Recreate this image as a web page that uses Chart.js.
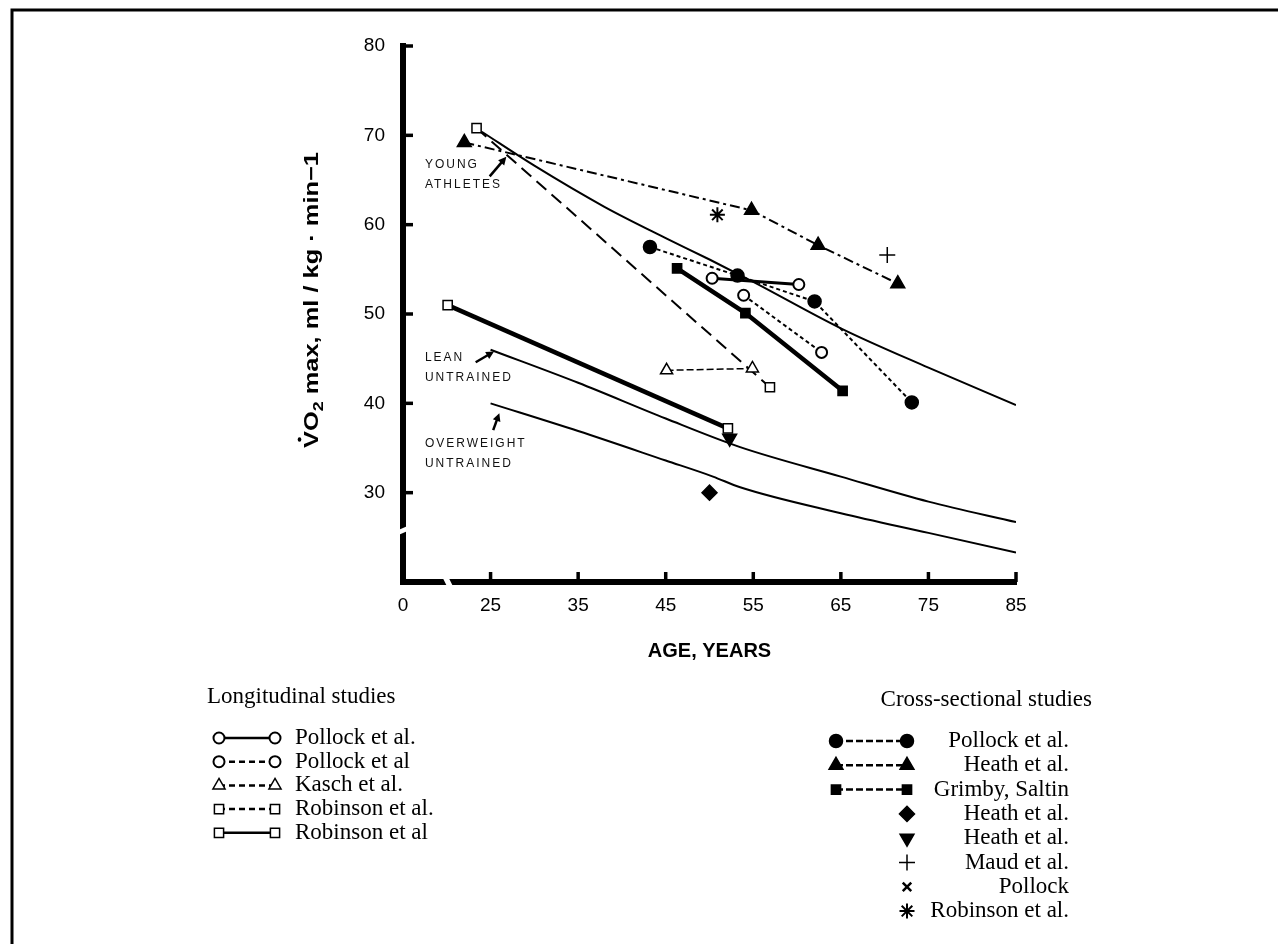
<!DOCTYPE html>
<html>
<head>
<meta charset="utf-8">
<script src="https://cdn.jsdelivr.net/npm/chart.js@4.4.1/dist/chart.umd.min.js"></script>
<style>
    html, body { margin: 0; padding: 0; background: #fff; }
    #wrap { width: 1278px; height: 944px; }
</style>
</head>
<body>
<div id="wrap"><canvas id="vo2Chart" width="1278" height="944"></canvas></div>
<script>
// Reference curves (age, VO2 max)
const youngAge = [24, 30, 38, 45, 50, 55, 65, 75, 85];
const youngVO2 = [70.4, 66.6, 62.0, 58.5, 56.1, 53.6, 48.4, 44.0, 39.8];
const leanAge = [25, 35, 45, 53.5, 65, 75, 85];
const leanVO2 = [46.0, 42.3, 38.3, 35.1, 31.8, 29.0, 26.7];
const overAge = [25, 35, 45, 50.4, 53.5, 65, 75, 85];
const overVO2 = [40.0, 36.9, 33.6, 31.8, 30.6, 27.7, 25.5, 23.3];

// Longitudinal studies
const pollockSolidAge = [50.3, 60.2];
const pollockSolidVO2 = [54.0, 53.3];
const pollockDashAge = [53.9, 62.8];
const pollockDashVO2 = [52.1, 45.7];
const kaschAge = [45.1, 54.9];
const kaschVO2 = [43.7, 43.9];
const robinsonDashAge = [23.4, 56.9];
const robinsonDashVO2 = [70.8, 41.8];
const robinsonSolidAge = [20.1, 52.1];
const robinsonSolidVO2 = [51.0, 37.2];

// Cross-sectional studies
const pollockCrossAge = [43.2, 53.2, 62.0, 73.1];
const pollockCrossVO2 = [57.5, 54.3, 51.4, 40.1];
const heathTriAge = [22.0, 54.8, 62.4, 71.5];
const heathTriVO2 = [69.2, 61.6, 57.7, 53.4];
const grimbyAge = [46.3, 54.1, 65.2];
const grimbyVO2 = [55.1, 50.1, 41.4];
const heathDiamondAge = [50.0];
const heathDiamondVO2 = [30.0];
const heathDownAge = [52.3];
const heathDownVO2 = [36.1];
const maudAge = [70.3];
const maudVO2 = [56.6];
const pollockXAge = [];
const pollockXVO2 = [];
const robinsonStarAge = [50.9];
const robinsonStarVO2 = [61.1];

// Axes
const ageTicks = [15, 25, 35, 45, 55, 65, 75, 85];
const ageTickLabels = ['0', '25', '35', '45', '55', '65', '75', '85'];
const vo2Ticks = [30, 40, 50, 60, 70, 80];

const longLegendLabels = ['Pollock et al.', 'Pollock et al', 'Kasch et al.', 'Robinson et al.', 'Robinson et al'];
const crossLegendLabels = ['Pollock et al.', 'Heath et al.', 'Grimby, Saltin', 'Heath et al.', 'Heath et al.', 'Maud et al.', 'Pollock', 'Robinson et al.'];

const notes = [
    { lines: ['YOUNG', 'ATHLETES'], x: 17.5, y: 66.7, from: [24.9, 65.4], to: [26.8, 67.6] },
    { lines: ['LEAN', 'UNTRAINED'], x: 17.5, y: 45.1, from: [23.3, 44.6], to: [25.4, 45.8] },
    { lines: ['OVERWEIGHT', 'UNTRAINED'], x: 17.5, y: 35.5, from: [25.3, 37.0], to: [26.0, 38.9] }
];

const SANS = '"Liberation Sans", Arial, Helvetica, sans-serif';
const SERIF = '"Liberation Serif", "Times New Roman", serif';

function pts(xs, ys) {
    return xs.map((x, i) => ({ x, y: ys[i] }));
}

function curve(label, xs, ys) {
    return { label, data: pts(xs, ys), borderColor: '#000', borderWidth: 2, pointRadius: 0, cubicInterpolationMode: 'monotone', fill: false };
}

function study(label, xs, ys, opts) {
    return Object.assign({
        label, data: pts(xs, ys), borderColor: '#000', borderWidth: 2,
        pointBorderColor: '#000', pointBackgroundColor: '#000', pointBorderWidth: 1.5,
        pointRadius: 6, tension: 0, fill: false
    }, opts);
}

const longSets = [
    study('Pollock et al.', pollockSolidAge, pollockSolidVO2, { borderWidth: 3, pointStyle: 'circle', pointRadius: 5.5, pointBackgroundColor: '#fff', pointBorderWidth: 2, legendDash: [] }),
    study('Pollock et al', pollockDashAge, pollockDashVO2, { borderDash: [4, 3], pointStyle: 'circle', pointRadius: 5.5, pointBackgroundColor: '#fff', pointBorderWidth: 2, legendDash: [6, 4] }),
    study('Kasch et al.', kaschAge, kaschVO2, { borderDash: [7, 3], borderWidth: 1.5, pointStyle: 'triangle', pointRadius: 7, pointBackgroundColor: '#fff', legendDash: [6, 4] }),
    study('Robinson et al.', robinsonDashAge, robinsonDashVO2, { borderDash: [13, 7], pointStyle: 'rect', pointRadius: 6.5, pointBackgroundColor: '#fff', legendDash: [6, 4] }),
    study('Robinson et al', robinsonSolidAge, robinsonSolidVO2, { borderWidth: 4.5, pointStyle: 'rect', pointRadius: 6.5, pointBackgroundColor: '#fff', legendDash: [] })
];

const crossSets = [
    study('Pollock et al.', pollockCrossAge, pollockCrossVO2, { borderDash: [4, 3], pointStyle: 'circle', pointRadius: 6.5, legendDash: [7, 3] }),
    study('Heath et al.', heathTriAge, heathTriVO2, { borderDash: [10, 4, 3, 4], pointStyle: 'triangle', pointRadius: 8, legendDash: [7, 3] }),
    study('Grimby, Saltin', grimbyAge, grimbyVO2, { borderWidth: 4.5, pointStyle: 'rect', pointRadius: 6.5, legendDash: [7, 3] }),
    study('Heath et al.', heathDiamondAge, heathDiamondVO2, { showLine: false, pointStyle: 'rectRot', pointRadius: 7.5 }),
    study('Heath et al.', heathDownAge, heathDownVO2, { showLine: false, pointStyle: 'triangle', pointRotation: 180, pointRadius: 8 }),
    study('Maud et al.', maudAge, maudVO2, { showLine: false, pointStyle: 'cross', pointRadius: 8, pointBorderWidth: 1.5 }),
    study('Pollock', pollockXAge, pollockXVO2, { showLine: false, pointStyle: 'crossRot', pointRadius: 6, pointBorderWidth: 2.5 }),
    study('Robinson et al.', robinsonStarAge, robinsonStarVO2, { showLine: false, pointStyle: 'star', pointRadius: 7.5, pointBorderWidth: 2 })
];

const datasets = [
    curve('Young athletes', youngAge, youngVO2),
    curve('Lean untrained', leanAge, leanVO2),
    curve('Overweight untrained', overAge, overVO2)
].concat(longSets, crossSets);

function drawMarker(ctx, ds, x, y) {
    ctx.save();
    ctx.setLineDash([]);
    ctx.fillStyle = ds.pointBackgroundColor;
    ctx.strokeStyle = ds.pointBorderColor;
    ctx.lineWidth = ds.pointBorderWidth;
    Chart.helpers.drawPoint(ctx, {
        pointStyle: ds.pointStyle, rotation: ds.pointRotation || 0,
        radius: ds.pointRadius, borderWidth: ds.pointBorderWidth
    }, x, y);
    ctx.restore();
}

function drawSample(ctx, ds, x1, x2, y) {
    if (ds.showLine === false) {
        drawMarker(ctx, ds, x2, y);
        return;
    }
    ctx.save();
    ctx.strokeStyle = '#000';
    ctx.lineWidth = 2.5;
    ctx.setLineDash(ds.legendDash || []);
    ctx.beginPath();
    ctx.moveTo(x1, y);
    ctx.lineTo(x2, y);
    ctx.stroke();
    ctx.restore();
    drawMarker(ctx, ds, x1, y);
    drawMarker(ctx, ds, x2, y);
}

function arrow(ctx, x0, y0, x1, y1) {
    const a = Math.atan2(y1 - y0, x1 - x0);
    ctx.beginPath();
    ctx.moveTo(x0, y0);
    ctx.lineTo(x1 - 5 * Math.cos(a), y1 - 5 * Math.sin(a));
    ctx.stroke();
    ctx.beginPath();
    ctx.moveTo(x1, y1);
    ctx.lineTo(x1 - 8 * Math.cos(a) + 4 * Math.sin(a), y1 - 8 * Math.sin(a) - 4 * Math.cos(a));
    ctx.lineTo(x1 - 8 * Math.cos(a) - 4 * Math.sin(a), y1 - 8 * Math.sin(a) + 4 * Math.cos(a));
    ctx.closePath();
    ctx.fill();
}

function drawYTitle(ctx) {
    const big = 'bold 20px ' + SANS;
    const sub = 'bold 14px ' + SANS;
    const parts = [
        { t: 'V', f: big, dy: 0 },
        { t: 'O', f: big, dy: 0 },
        { t: '2', f: sub, dy: 5 },
        { t: ' max, ml / kg \u00b7 min\u22121', f: big, dy: 0 }
    ];
    let w = 0;
    parts.forEach(p => { ctx.font = p.f; p.w = ctx.measureText(p.t).width; w += p.w; });
    ctx.save();
    ctx.translate(311, 300);
    ctx.rotate(-Math.PI / 2);
    ctx.scale(296 / w, 1);
    ctx.fillStyle = '#000';
    ctx.textBaseline = 'alphabetic';
    ctx.textAlign = 'left';
    let cx = -w / 2;
    parts.forEach((p, i) => {
        ctx.font = p.f;
        ctx.fillText(p.t, cx, 7 + p.dy);
        if (i === 0) {
            ctx.beginPath();
            ctx.arc(cx + p.w / 2, -11.5, 1.8, 0, Math.PI * 2);
            ctx.fill();
        }
        cx += p.w;
    });
    ctx.restore();
}

const decorPlugin = {
    id: 'decor',
    afterDraw(chart) {
        const { ctx, chartArea } = chart;
        const xs = chart.scales.x;
        const ys = chart.scales.y;
        ctx.save();

        // page frame
        ctx.strokeStyle = '#000';
        ctx.lineWidth = 3;
        ctx.beginPath();
        ctx.moveTo(12, 944);
        ctx.lineTo(12, 10);
        ctx.lineTo(1278, 10);
        ctx.stroke();

        // tick marks pointing into the plot
        ctx.lineWidth = 3.5;
        ageTicks.slice(1).forEach(v => {
            const px = xs.getPixelForValue(v);
            ctx.beginPath();
            ctx.moveTo(px, chartArea.bottom);
            ctx.lineTo(px, chartArea.bottom - 10);
            ctx.stroke();
        });
        vo2Ticks.forEach(v => {
            const py = ys.getPixelForValue(v);
            ctx.beginPath();
            ctx.moveTo(chartArea.left, py);
            ctx.lineTo(chartArea.left + 10, py);
            ctx.stroke();
        });

        // axis breaks
        ctx.fillStyle = '#fff';
        const by = ys.getPixelForValue(26);
        const l = chartArea.left;
        ctx.beginPath();
        ctx.moveTo(l - 8, by + 3);
        ctx.lineTo(l + 8, by - 4);
        ctx.lineTo(l + 8, by + 1);
        ctx.lineTo(l - 8, by + 8);
        ctx.closePath();
        ctx.fill();
        const bx = xs.getPixelForValue(20);
        const b = chartArea.bottom;
        ctx.beginPath();
        ctx.moveTo(bx - 5, b - 6);
        ctx.lineTo(bx + 1, b - 6);
        ctx.lineTo(bx + 7, b + 6);
        ctx.lineTo(bx + 1, b + 6);
        ctx.closePath();
        ctx.fill();

        // annotations
        ctx.fillStyle = '#111';
        ctx.strokeStyle = '#000';
        ctx.font = '12px ' + SANS;
        ctx.letterSpacing = '2px';
        ctx.textAlign = 'left';
        ctx.textBaseline = 'middle';
        notes.forEach(n => {
            const tx = xs.getPixelForValue(n.x);
            const ty = ys.getPixelForValue(n.y);
            n.lines.forEach((s, i) => ctx.fillText(s, tx, ty + i * 20));
            ctx.lineWidth = 2.5;
            ctx.fillStyle = '#000';
            arrow(ctx, xs.getPixelForValue(n.from[0]), ys.getPixelForValue(n.from[1]),
                xs.getPixelForValue(n.to[0]), ys.getPixelForValue(n.to[1]));
            ctx.fillStyle = '#111';
        });
        ctx.letterSpacing = '0px';

        drawYTitle(ctx);

        // legends
        ctx.fillStyle = '#000';
        ctx.font = '23px ' + SERIF;
        ctx.textBaseline = 'middle';
        ctx.textAlign = 'left';
        ctx.fillText('Longitudinal studies', 207, 697);
        longSets.forEach((ds, i) => {
            const yy = 738 + i * 23.7;
            drawSample(ctx, ds, 219, 275, yy);
            ctx.fillStyle = '#000';
            ctx.font = '23px ' + SERIF;
            ctx.textAlign = 'left';
            ctx.textBaseline = 'middle';
            ctx.fillText(longLegendLabels[i], 295, yy);
        });
        ctx.textAlign = 'right';
        ctx.fillText('Cross-sectional studies', 1092, 700);
        crossSets.forEach((ds, i) => {
            const yy = 741 + i * 24.3;
            drawSample(ctx, ds, 836, 907, yy);
            ctx.fillStyle = '#000';
            ctx.font = '23px ' + SERIF;
            ctx.textAlign = 'right';
            ctx.textBaseline = 'middle';
            ctx.fillText(crossLegendLabels[i], 1069, yy);
        });

        ctx.restore();
    }
};

new Chart(document.getElementById('vo2Chart'), {
    type: 'line',
    data: { datasets },
    plugins: [decorPlugin],
    options: {
        responsive: false,
        animation: false,
        devicePixelRatio: 1,
        layout: { padding: { left: 0, top: 46, right: 262, bottom: 262 } },
        plugins: { legend: { display: false }, tooltip: { enabled: false } },
        scales: {
            x: {
                type: 'linear', min: 15, max: 85,
                afterBuildTicks: s => { s.ticks = ageTicks.map(v => ({ value: v })); },
                afterFit: s => { s.height = 100; },
                grid: { display: false, drawTicks: false },
                border: { display: true, width: 6, color: '#000' },
                ticks: {
                    color: '#000', padding: 12, maxRotation: 0, autoSkip: false,
                    font: { family: SANS, size: 19 },
                    callback: (v, i) => ageTickLabels[i]
                },
                title: {
                    display: true, text: 'AGE, YEARS', color: '#000',
                    font: { family: SANS, size: 20, weight: 'bold' },
                    padding: { top: 0, bottom: 19 }
                }
            },
            y: {
                type: 'linear', min: 20, max: 80,
                afterBuildTicks: s => { s.ticks = vo2Ticks.map(v => ({ value: v })); },
                afterFit: s => { s.width = 403; },
                grid: { display: false, drawTicks: false },
                border: { display: true, width: 6, color: '#000' },
                ticks: {
                    color: '#000', padding: 18,
                    font: { family: SANS, size: 19 }
                }
            }
        }
    }
});
</script>
</body>
</html>
